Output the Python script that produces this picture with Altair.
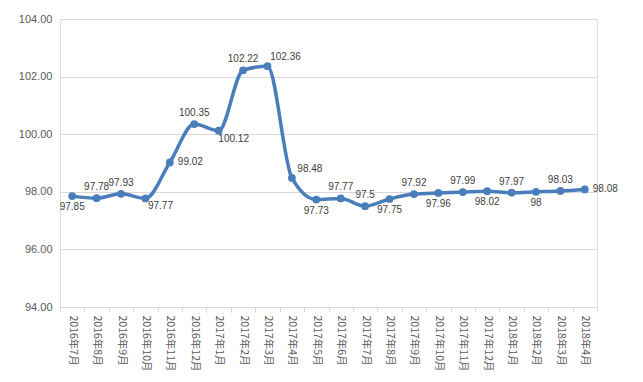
import altair as alt
import pandas as pd

months = ["2016年7月", "2016年8月", "2016年9月", "2016年10月", "2016年11月", "2016年12月",
          "2017年1月", "2017年2月", "2017年3月", "2017年4月", "2017年5月", "2017年6月",
          "2017年7月", "2017年8月", "2017年9月", "2017年10月", "2017年11月", "2017年12月",
          "2018年1月", "2018年2月", "2018年3月", "2018年4月"]
values = [97.85, 97.78, 97.93, 97.77, 99.02, 100.35, 100.12, 102.22, 102.36, 98.48,
          97.73, 97.77, 97.5, 97.75, 97.92, 97.96, 97.99, 98.02, 97.97, 98, 98.03, 98.08]
label_texts = ["97.85", "97.78", "97.93", "97.77", "99.02", "100.35", "100.12", "102.22",
               "102.36", "98.48", "97.73", "97.77", "97.5", "97.75", "97.92", "97.96",
               "97.99", "98.02", "97.97", "98", "98.03", "98.08"]
# label placement relative to the point (style)
placement = ["b", "a", "a", "br", "r", "a", "br", "a", "ar", "ar", "b", "a",
             "a", "b", "a", "b", "a", "b", "a", "b", "a", "r"]
y_ticks = [94, 96, 98, 100, 102, 104]

df = pd.DataFrame({"month": months, "value": values, "label": label_texts, "pos": placement})

COLOR = "#4A7EBB"

x_enc = alt.X("month:N", sort=None,
              scale=alt.Scale(type="band", paddingInner=0, paddingOuter=0),
              axis=alt.Axis(title=None, labelAngle=90, labelColor="#595959",
                            labelFont="Noto Sans CJK SC", labelFontSize=10.5,
                            labelPadding=3, domainColor="#D9D9D9", tickColor="#D9D9D9",
                            tickSize=5, tickBand="extent", grid=False))
y_enc = alt.Y("value:Q", scale=alt.Scale(domain=[94, 104], nice=False, zero=False),
              axis=alt.Axis(title=None, values=y_ticks, format=".2f", domain=False,
                            ticks=False, gridColor="#D9D9D9", labelColor="#595959",
                            labelFont="Liberation Sans", labelFontSize=11, labelPadding=8))

base = alt.Chart(df)

line = base.mark_line(color=COLOR, strokeWidth=3.5, interpolate="monotone").encode(x=x_enc, y=y_enc)
points = base.mark_point(color=COLOR, filled=True, opacity=1, size=60).encode(x=x_enc, y=y_enc)

offsets = {
    "a": dict(dx=0, dy=-11, align="center"),
    "b": dict(dx=0, dy=11, align="center"),
    "br": dict(dx=15, dy=8, align="center"),
    "ar": dict(dx=18, dy=-9, align="center"),
    "r": dict(dx=8, dy=0, align="left"),
}

text_layers = []
for key, o in offsets.items():
    t = base.transform_filter(alt.datum.pos == key).mark_text(
        font="Liberation Sans", fontSize=10, color="#404040", baseline="middle",
        dx=o["dx"], dy=o["dy"], align=o["align"]
    ).encode(x=x_enc, y=y_enc, text="label:N")
    text_layers.append(t)

chart = alt.layer(line, points, *text_layers).properties(
    width=537, height=288,
    autosize=alt.AutoSizeParams(type="none"),
    padding={"left": 52, "top": 11, "right": 38, "bottom": 67},
).configure_view(stroke=None).configure(background="white")

chart.save("out.html", embed_options={"renderer": "svg", "actions": False})
